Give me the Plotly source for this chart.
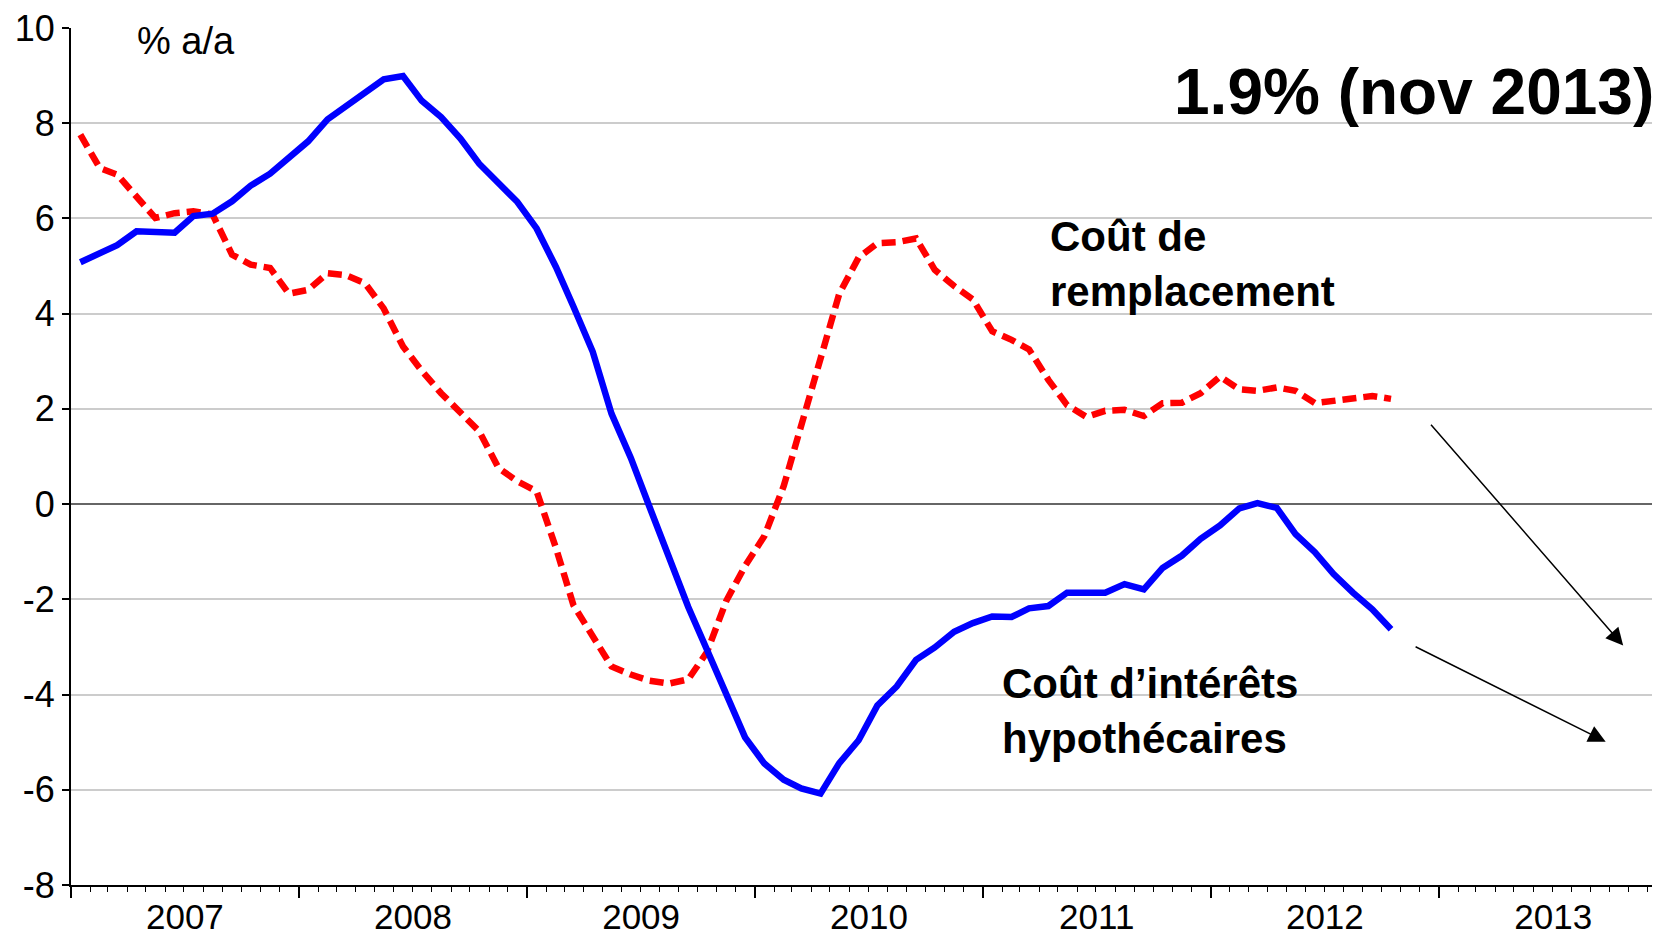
import pandas as pd
import plotly.graph_objects as go

# Monthly observations, Jan 2007 - Oct 2012
months = [d.strftime("%Y-%m-16") for d in pd.date_range("2007-01-01", periods=70, freq="MS")]

interets = [5.08, 5.26, 5.44, 5.73, 5.71, 5.70, 6.05, 6.10, 6.36, 6.69, 6.94, 7.29,
            7.62, 8.08, 8.34, 8.65, 8.92, 8.99, 8.47, 8.13, 7.68, 7.15, 6.73, 6.35,
            5.79, 4.98, 4.15, 3.20, 1.90, 0.97, -0.06, -1.09, -2.16, -3.06, -3.99, -4.90,
            -5.45, -5.79, -5.97, -6.08, -5.44, -4.96, -4.23, -3.83, -3.27, -3.01, -2.68, -2.50,
            -2.36, -2.37, -2.19, -2.14, -1.86, -1.86, -1.86, -1.68, -1.79, -1.34, -1.08, -0.73,
            -0.45, -0.09, 0.02, -0.08, -0.63, -1.01, -1.47, -1.86, -2.21, -2.63]

remplacement = [7.76, 7.06, 6.92, 6.46, 6.01, 6.11, 6.15, 6.08, 5.24, 5.03, 4.96, 4.42,
                4.50, 4.85, 4.81, 4.64, 4.11, 3.31, 2.80, 2.33, 1.91, 1.53, 0.76, 0.48,
                0.27, -0.92, -2.12, -2.76, -3.41, -3.58, -3.71, -3.77, -3.68, -3.11, -2.03, -1.30,
                -0.67, 0.38, 1.64, 3.13, 4.42, 5.18, 5.48, 5.50, 5.58, 4.92, 4.58, 4.30,
                3.63, 3.45, 3.25, 2.61, 2.08, 1.83, 1.96, 1.98, 1.85, 2.12, 2.13, 2.33,
                2.68, 2.41, 2.38, 2.45, 2.38, 2.12, 2.17, 2.22, 2.27, 2.21]

y_ticks = [-8, -6, -4, -2, 0, 2, 4, 6, 8, 10]
y_tick_text = ["-8", "-6", "-4", "-2", "0", "2", "4", "6", "8", "10"]

FONT = "Liberation Sans, Arial, Helvetica, sans-serif"

fig = go.Figure()
fig.add_trace(go.Scatter(x=months, y=remplacement, mode="lines",
                         line=dict(color="#ff0000", width=6.5, dash="14px,7px"),
                         name="Coût de remplacement"))
fig.add_trace(go.Scatter(x=months, y=interets, mode="lines",
                         line=dict(color="#0000ff", width=6.5),
                         name="Coût d’intérêts hypothécaires"))

# page body has an 8px margin: figure occupies page x 8..1660, y 8..936
fig.update_layout(
    width=1652, height=928,
    margin=dict(l=63, r=0, t=20, b=51),
    paper_bgcolor="white", plot_bgcolor="white",
    showlegend=False,
    font=dict(family=FONT, color="black"),
)

fig.update_xaxes(
    type="date",
    range=["2007-01-01", "2013-12-21"],
    dtick="M12", tick0="2007-01-01",
    tickformat="%Y", ticklabelmode="period",
    ticks="outside", ticklen=11, tickwidth=1.5, tickcolor="black",
    ticklabelstandoff=-11, ticklabeloverflow="allow",
    minor=dict(dtick="M1", ticks="outside", ticklen=5, tickwidth=1.2,
               tickcolor="black", showgrid=False),
    showgrid=False, showline=True, linecolor="black", linewidth=2,
    tickfont=dict(size=35, family=FONT, color="black"),
    automargin=False, zeroline=False,
)

fig.update_yaxes(
    range=[-8, 10], tickvals=y_ticks, ticktext=y_tick_text,
    ticks="outside", ticklen=7, tickwidth=1.5, tickcolor="black",
    ticklabeloverflow="allow",
    showgrid=True, gridcolor="#cccccc", gridwidth=1.5,
    zeroline=True, zerolinecolor="#666666", zerolinewidth=1.5,
    showline=True, linecolor="black", linewidth=2,
    tickfont=dict(size=36, family=FONT, color="black"),
    automargin=False,
)

# helpers: page pixel -> paper fraction of the plot area (71..1660, 28..885)
W = 1589.0
H = 857.0
def px(xp):
    return (xp - 71) / W
def py(yp):
    return (885 - yp) / H

annotations = [
    dict(text="% a/a", x=px(135), y=py(18), xanchor="left", yanchor="top",
         font=dict(size=38, family=FONT, color="black")),
    dict(text="<b>1.9% (nov 2013)</b>", x=px(1656), y=py(92), xanchor="right", yanchor="middle",
         font=dict(size=64, family=FONT, color="black")),
    dict(text="<b>Coût de<br>remplacement</b>", x=px(1048), y=py(211), xanchor="left", yanchor="top",
         align="left", font=dict(size=42, family=FONT, color="black")),
    dict(text="<b>Coût d’intérêts<br>hypothécaires</b>", x=px(1000), y=py(658), xanchor="left", yanchor="top",
         align="left", font=dict(size=42, family=FONT, color="black")),
]
for a in annotations:
    a.update(xref="paper", yref="paper", showarrow=False)

arrows = [
    dict(x="2013-10-23", y=-2.97, ax="2012-12-17", ay=1.70),
    dict(x="2013-09-25", y=-4.99, ax="2012-11-22", ay=-2.98),
]
for a in arrows:
    a.update(xref="x", yref="y", axref="x", ayref="y", showarrow=True, text="",
             arrowhead=2, arrowsize=2.3, arrowwidth=1.5, arrowcolor="black", standoff=0)
    annotations.append(a)

fig.update_layout(annotations=annotations)

fig.write_html("out.html")
